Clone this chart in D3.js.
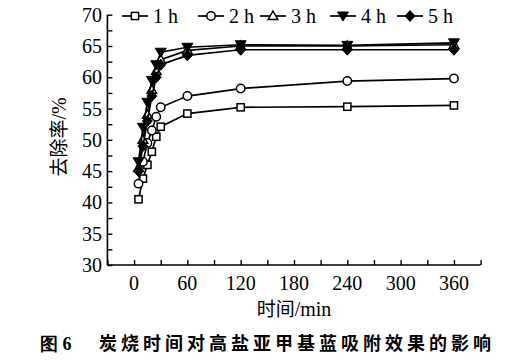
<!DOCTYPE html>
<html>
<head>
<meta charset="utf-8">
<script src="https://cdn.jsdelivr.net/npm/d3@7"></script>
<style>
  body { margin: 0; background: #fff; }
  svg { display: block; }
</style>
</head>
<body>
<div id="chart"></div>
<script>
// time points (min)
var times = [5, 10, 15, 20, 25, 30, 60, 120, 240, 360];
// removal rate (%) for each carbonization time
var series1h = [40.5, 43.8, 46.0, 48.1, 50.5, 52.1, 54.2, 55.2, 55.3, 55.5];
var series2h = [43.0, 46.5, 49.5, 51.5, 53.7, 55.2, 57.0, 58.2, 59.4, 59.8];
var series3h = [45.5, 50.0, 54.0, 58.0, 61.0, 62.8, 64.3, 65.0, 65.0, 65.2];
var series4h = [46.5, 52.0, 56.0, 59.5, 62.0, 64.0, 64.8, 65.2, 65.1, 65.5];
var series5h = [45.0, 49.0, 53.0, 57.0, 60.0, 62.0, 63.5, 64.4, 64.4, 64.4];
var seriesNames = ["1 h", "2 h", "3 h", "4 h", "5 h"];
var xTickLabels = [0, 60, 120, 180, 240, 300, 360];
var yTickLabels = [30, 35, 40, 45, 50, 55, 60, 65, 70];

var allSeries = [series1h, series2h, series3h, series4h, series5h];
var markers = ["square", "circle", "triangle", "down", "diamond"];

var svgWidth = 531, svgHeight = 361;
var svg = d3.select("#chart").append("svg")
  .attr("width", svgWidth)
  .attr("height", svgHeight);

var x = d3.scaleLinear().domain([-30, 390]).range([107.4, 480.6]);
var y = d3.scaleLinear().domain([30, 70]).range([265, 14.7]);

var serif = "'Liberation Serif', 'Times New Roman', serif";
var cjk = "'Noto Sans CJK SC', sans-serif";

// axes
var xAxis = svg.append("g")
  .attr("transform", "translate(0," + y(30) + ")")
  .call(d3.axisTop(x).tickValues(d3.range(-30, 391, 30)).tickSize(5).tickFormat(""));
xAxis.select(".domain").attr("stroke-width", 1.6).attr("d", "M" + x(-30) + ",0H" + x(390));
xAxis.selectAll(".tick line").attr("stroke-width", 1.4);

var yAxis = svg.append("g")
  .attr("transform", "translate(" + x(-30) + ",0)")
  .call(d3.axisRight(y).tickValues(d3.range(30, 70.1, 2.5)).tickSize(5).tickFormat(""));
yAxis.select(".domain").attr("stroke-width", 1.6).attr("d", "M0," + y(30) + "V" + y(70));
yAxis.selectAll(".tick line").attr("stroke-width", 1.4);

// tick labels
svg.selectAll(".xlab").data(xTickLabels).enter().append("text")
  .attr("x", function(d) { return x(d); })
  .attr("y", 290)
  .attr("text-anchor", "middle")
  .attr("font-family", serif)
  .attr("font-size", "20px")
  .text(function(d) { return d; });

svg.selectAll(".ylab").data(yTickLabels).enter().append("text")
  .attr("x", 102)
  .attr("y", function(d) { return y(d) + 7; })
  .attr("text-anchor", "end")
  .attr("font-family", serif)
  .attr("font-size", "20px")
  .text(function(d) { return d; });

// axis titles
var yTitle = svg.append("text")
  .attr("transform", "translate(66,137) rotate(-90)")
  .attr("text-anchor", "middle")
  .attr("font-size", "19px");
yTitle.append("tspan").attr("font-family", cjk).text("去除率");
yTitle.append("tspan").attr("font-family", serif).attr("font-size", "20px").text("/%");

var xTitle = svg.append("text")
  .attr("x", 294)
  .attr("y", 316)
  .attr("text-anchor", "middle")
  .attr("font-size", "19px");
xTitle.append("tspan").attr("font-family", cjk).text("时间");
xTitle.append("tspan").attr("font-family", serif).attr("font-size", "20px").text("/min");

// caption
var cap = svg.append("text")
  .attr("x", 40)
  .attr("y", 350)
  .attr("font-size", "18px")
  .attr("font-weight", "bold");
cap.append("tspan").attr("font-family", serif).text("图 6");
cap.append("tspan").attr("x", 99).attr("font-family", cjk)
  .attr("textLength", 392)
  .text("炭烧时间对高盐亚甲基蓝吸附效果的影响");

// marker drawing
function drawMarker(g, type, cx, cy) {
  if (type === "square") {
    g.append("rect").attr("x", cx - 3.6).attr("y", cy - 3.6).attr("width", 7.2).attr("height", 7.2)
      .attr("fill", "#fff").attr("stroke", "#000").attr("stroke-width", 1.5);
  } else if (type === "circle") {
    g.append("circle").attr("cx", cx).attr("cy", cy).attr("r", 4.2)
      .attr("fill", "#fff").attr("stroke", "#000").attr("stroke-width", 1.5);
  } else if (type === "triangle") {
    g.append("path").attr("d", "M" + cx + "," + (cy - 5) + "L" + (cx + 4.8) + "," + (cy + 3.5) + "L" + (cx - 4.8) + "," + (cy + 3.5) + "Z")
      .attr("fill", "#fff").attr("stroke", "#000").attr("stroke-width", 1.5);
  } else if (type === "down") {
    g.append("path").attr("d", "M" + cx + "," + (cy + 5) + "L" + (cx + 5.5) + "," + (cy - 4) + "L" + (cx - 5.5) + "," + (cy - 4) + "Z")
      .attr("fill", "#000").attr("stroke", "#000").attr("stroke-width", 1);
  } else {
    g.append("path").attr("d", "M" + cx + "," + (cy - 5.5) + "L" + (cx + 5) + "," + cy + "L" + cx + "," + (cy + 5.5) + "L" + (cx - 5) + "," + cy + "Z")
      .attr("fill", "#000").attr("stroke", "#000").attr("stroke-width", 1);
  }
}

var line = d3.line()
  .x(function(d, i) { return x(times[i]); })
  .y(function(d) { return y(d); });

allSeries.forEach(function(vals, k) {
  var g = svg.append("g");
  g.append("path").datum(vals)
    .attr("d", line)
    .attr("fill", "none")
    .attr("stroke", "#000")
    .attr("stroke-width", 1.7);
  vals.forEach(function(v, i) {
    drawMarker(g, markers[k], x(times[i]), y(v));
  });
});

// legend
var legendX = [122, 198, 260, 330, 397];
var legend = svg.append("g");
seriesNames.forEach(function(name, k) {
  var lx = legendX[k];
  legend.append("line")
    .attr("x1", lx).attr("x2", lx + 26)
    .attr("y1", 16).attr("y2", 16)
    .attr("stroke", "#000").attr("stroke-width", 1.7);
  drawMarker(legend, markers[k], lx + 13, 16);
  legend.append("text")
    .attr("x", lx + 31)
    .attr("y", 23)
    .attr("font-family", serif)
    .attr("font-size", "20px")
    .text(name);
});
</script>
</body>
</html>
